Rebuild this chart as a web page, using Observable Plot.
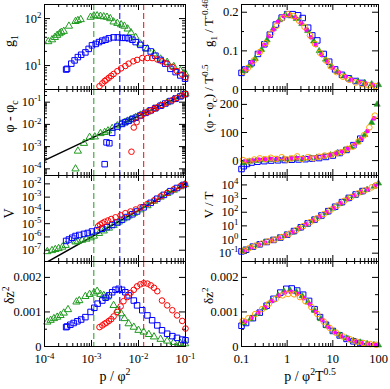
<!DOCTYPE html>
<html><head><meta charset="utf-8">
<script src="https://cdn.jsdelivr.net/npm/d3@7"></script>
<script src="https://cdn.jsdelivr.net/npm/@observablehq/plot@0.6"></script>
<style>
html,body{margin:0;padding:0;background:#fff;}
#chart{position:relative;width:390px;height:389px;overflow:hidden;font-family:"Liberation Serif",serif;}
#chart svg{position:absolute;}
</style></head><body><div id="chart"></div>
<script>
// ---------- colours ----------
const GREEN = "#1f9a1f", BLUE = "#0000ff", RED = "#ff0000", MAGENTA = "#ff00ff", ORANGE = "#ffa500";

// ---------- left column: x = log10(p/phi^2) ----------
// vertical dashed markers (p/phi^2) for green, blue, red series
const vlines = [1.12e-3, 4.0e-3, 1.29e-2];

// panel 1: [log10 x, log10 g1]
const g1Green = [[-3.92,1.51],[-3.84,1.55],[-3.78,1.60],[-3.73,1.645],[-3.68,1.68],[-3.64,1.71],[-3.59,1.73],[-3.48,1.84],[-3.34,1.94],[-3.29,1.96],[-3.23,1.98],[-3.02,2.03],[-2.95,2.06],[-2.88,2.06],[-2.81,2.05],[-2.74,2.04],[-2.67,2.03],[-2.60,2.0],[-2.53,1.93],[-2.45,1.90],[-2.37,1.87],[-2.30,1.84],[-2.23,1.78],[-2.16,1.70],[-2.06,1.60],[-1.96,1.46],[-1.81,1.355],[-1.67,1.25],[-1.53,1.14],[-1.39,1.07],[-1.25,0.98],[-1.11,0.89],[-1.0,0.82]];
const g1Blue = [[-3.54,0.915],[-3.52,0.93],[-3.43,1.04],[-3.36,1.11],[-3.29,1.18],[-3.22,1.23],[-3.13,1.28],[-3.06,1.355],[-2.99,1.43],[-2.91,1.46],[-2.84,1.50],[-2.77,1.53],[-2.70,1.55],[-2.63,1.58],[-2.53,1.60],[-2.44,1.60],[-2.35,1.59],[-2.28,1.59],[-2.21,1.58],[-2.13,1.55],[-2.06,1.50],[-1.96,1.44],[-1.85,1.37],[-1.74,1.30],[-1.64,1.21],[-1.53,1.12],[-1.43,1.04],[-1.32,0.93],[-1.21,0.86],[-1.11,0.79],[-1.01,0.72]];
const g1Red = [[-2.83,0.56],[-2.77,0.62],[-2.72,0.67],[-2.68,0.70],[-2.63,0.74],[-2.58,0.78],[-2.53,0.82],[-2.45,0.88],[-2.37,0.94],[-2.28,0.99],[-2.21,1.04],[-2.11,1.09],[-2.03,1.12],[-1.92,1.16],[-1.81,1.16],[-1.71,1.16],[-1.60,1.13],[-1.50,1.09],[-1.39,1.04],[-1.28,0.97],[-1.18,0.88],[-1.07,0.81],[-1.0,0.75]];

// panel 2: [log10 x, log10 (phi - phi_c)]
const phiGreen = [[-3.34,-4.0],[-3.29,-3.2],[-3.16,-2.85],[-3.04,-2.58],[-2.93,-2.56],[-2.81,-2.41],[-2.72,-2.36],[-2.65,-2.29],[-2.56,-2.18],[-2.45,-2.06],[-2.37,-1.98],[-2.30,-1.92],[-2.23,-1.85],[-2.16,-1.78],[-2.06,-1.68],[-1.96,-1.58],[-1.81,-1.44],[-1.67,-1.30],[-1.53,-1.16],[-1.39,-1.02],[-1.25,-0.88],[-1.11,-0.74],[-1.0,-0.63]];
const phiBlue = [[-2.72,-3.79],[-2.68,-2.81],[-2.62,-2.85],[-2.56,-2.38],[-2.45,-2.10],[-2.35,-1.98],[-2.28,-1.90],[-2.21,-1.84],[-2.13,-1.76],[-2.06,-1.70],[-1.96,-1.60],[-1.85,-1.48],[-1.74,-1.37],[-1.64,-1.27],[-1.53,-1.16],[-1.43,-1.06],[-1.32,-0.95],[-1.21,-0.84],[-1.11,-0.74],[-1.01,-0.64]];
const phiRed = [[-2.15,-3.23],[-2.10,-2.14],[-2.04,-1.90],[-1.96,-1.62],[-1.89,-1.52],[-1.81,-1.45],[-1.74,-1.38],[-1.67,-1.30],[-1.60,-1.23],[-1.50,-1.13],[-1.39,-1.02],[-1.28,-0.91],[-1.18,-0.81],[-1.07,-0.70],[-1.0,-0.63]];
const phiFit = [[-4,-3.62],[-1,-0.62]];

// panel 3: [log10 x, log10 V]
const vGreen = [[-3.94,-7.10],[-3.84,-7.02],[-3.77,-6.94],[-3.70,-6.87],[-3.62,-6.76],[-3.55,-6.63],[-3.34,-6.37],[-3.29,-6.32],[-3.20,-6.24],[-3.11,-6.16],[-3.02,-6.06],[-2.95,-5.93],[-2.84,-5.73],[-2.74,-5.54],[-2.63,-5.33],[-2.53,-5.12],[-2.42,-4.87],[-2.32,-4.63],[-2.21,-4.42],[-2.10,-4.21],[-1.96,-3.95],[-1.81,-3.64],[-1.67,-3.30],[-1.53,-2.99],[-1.39,-2.72],[-1.25,-2.47],[-1.11,-2.21],[-1.01,-2.05]];
const vBlue = [[-3.54,-6.30],[-3.48,-6.19],[-3.41,-6.06],[-3.34,-5.93],[-3.26,-5.85],[-3.16,-5.77],[-3.08,-5.70],[-2.99,-5.59],[-2.88,-5.49],[-2.77,-5.38],[-2.67,-5.26],[-2.56,-5.10],[-2.45,-4.91],[-2.35,-4.71],[-2.24,-4.50],[-2.13,-4.29],[-2.03,-4.08],[-1.89,-3.77],[-1.74,-3.43],[-1.60,-3.12],[-1.46,-2.83],[-1.32,-2.55],[-1.18,-2.31],[-1.04,-2.08]];
const vRed = [[-2.86,-5.20],[-2.82,-5.07],[-2.77,-4.97],[-2.72,-4.86],[-2.65,-4.76],[-2.58,-4.65],[-2.49,-4.52],[-2.38,-4.37],[-2.28,-4.21],[-2.17,-4.08],[-2.06,-3.93],[-1.96,-3.77],[-1.81,-3.51],[-1.67,-3.25],[-1.53,-2.94],[-1.39,-2.68],[-1.25,-2.41],[-1.11,-2.18],[-1.01,-2.03]];
const vFit = [[-4,-8],[-1,-2]];

// panel 4: [log10 x, delta z^2]
const dzGreen = [[-3.94,0.00071],[-3.87,0.00076],[-3.80,0.00081],[-3.73,0.00085],[-3.66,0.00090],[-3.59,0.00097],[-3.50,0.00107],[-3.32,0.00129],[-3.26,0.00133],[-3.13,0.00145],[-3.04,0.00151],[-2.95,0.00155],[-2.88,0.00160],[-2.81,0.00151],[-2.74,0.00148],[-2.67,0.00143],[-2.53,0.00119],[-2.45,0.00105],[-2.37,0.00095],[-2.30,0.00081],[-2.21,0.00066],[-2.10,0.00056],[-2.0,0.00047],[-1.89,0.00042],[-1.78,0.00035],[-1.67,0.00028],[-1.53,0.00021],[-1.39,0.00016],[-1.25,0.00012],[-1.11,0.00009],[-1.01,0.00008]];
const dzBlue = [[-3.54,0.00056],[-3.52,0.00058],[-3.45,0.00063],[-3.38,0.00068],[-3.30,0.00073],[-3.22,0.00078],[-3.13,0.00085],[-3.02,0.00100],[-2.94,0.00112],[-2.87,0.00124],[-2.77,0.00133],[-2.70,0.00141],[-2.63,0.00148],[-2.56,0.00157],[-2.49,0.00164],[-2.42,0.00167],[-2.35,0.00164],[-2.28,0.00157],[-2.21,0.00148],[-2.10,0.00133],[-2.03,0.00119],[-1.92,0.00105],[-1.81,0.00090],[-1.71,0.00076],[-1.60,0.00061],[-1.50,0.00047],[-1.39,0.00037],[-1.28,0.00030],[-1.18,0.00025],[-1.07,0.00020],[-1.0,0.00018]];
const dzRed = [[-2.83,0.00056],[-2.77,0.00061],[-2.72,0.00066],[-2.68,0.00069],[-2.63,0.00074],[-2.58,0.00079],[-2.53,0.00087],[-2.45,0.00100],[-2.38,0.00116],[-2.32,0.00131],[-2.24,0.00143],[-2.17,0.00155],[-2.10,0.00164],[-2.03,0.00174],[-1.96,0.00180],[-1.89,0.00183],[-1.81,0.00182],[-1.74,0.00177],[-1.67,0.00170],[-1.60,0.00160],[-1.50,0.00133],[-1.39,0.00119],[-1.28,0.00105],[-1.18,0.00090],[-1.07,0.00074],[-1.0,0.00052]];

// ---------- right column: x = log10(p / phi^2 T^0.5) ----------
// R1: [log10 x, g1 / T^-0.46]
const r1Blue = [[-1.0,0.043],[-0.92,0.052],[-0.78,0.068],[-0.64,0.092],[-0.5,0.117],[-0.38,0.142],[-0.25,0.168],[-0.12,0.186],[0.0,0.195],[0.12,0.195],[0.24,0.192],[0.34,0.185],[0.46,0.16],[0.55,0.14],[0.66,0.127],[0.8,0.092],[0.92,0.072],[1.05,0.052],[1.2,0.038],[1.35,0.029],[1.5,0.022],[1.65,0.017]];
const r1Green = [[-0.95,0.048],[-0.82,0.062],[-0.7,0.08],[-0.56,0.103],[-0.44,0.128],[-0.3,0.158],[-0.17,0.18],[-0.04,0.193],[0.08,0.19],[0.2,0.183],[0.32,0.17],[0.45,0.152],[0.58,0.125],[0.7,0.1],[0.84,0.078],[0.97,0.06],[1.1,0.046],[1.25,0.035],[1.4,0.027],[1.55,0.021],[1.7,0.017],[1.85,0.014],[2.0,0.012]];
const r1Magenta = [[-0.9,0.052],[-0.77,0.07],[-0.62,0.095],[-0.5,0.115],[-0.4,0.138],[-0.3,0.155],[-0.2,0.175],[-0.08,0.19],[0.05,0.192],[0.17,0.186],[0.3,0.172],[0.42,0.155],[0.52,0.135],[0.63,0.115],[0.75,0.09],[0.88,0.072],[1.0,0.056],[1.13,0.044],[1.28,0.033],[1.42,0.025],[1.58,0.019],[1.72,0.015],[1.88,0.012]];
const r1Orange = [[-0.96,0.046],[-0.86,0.056],[-0.73,0.075],[-0.6,0.097],[-0.47,0.12],[-0.35,0.145],[-0.23,0.165],[-0.1,0.185],[0.02,0.195],[0.14,0.19],[0.26,0.178],[0.38,0.162],[0.5,0.14],[0.61,0.118],[0.72,0.095],[0.85,0.075],[0.95,0.06],[1.08,0.045],[1.22,0.033],[1.36,0.025],[1.5,0.018],[1.64,0.014],[1.78,0.011],[1.93,0.009]];

// R2: [log10 x, (phi - phi_c) / T^0.5]
const r2Blue = [[-1.0,-30],[-0.95,-20],[-0.88,-12],[-0.78,-7],[-0.65,-4],[-0.5,-2],[-0.35,0],[-0.2,1],[-0.05,2],[0.1,3],[0.25,4],[0.4,5],[0.55,7],[0.7,9],[0.85,13],[1.0,18],[1.15,27],[1.3,38],[1.45,55],[1.6,78]];
const r2Green = [[-0.95,-8],[-0.82,-3],[-0.68,0],[-0.52,2],[-0.38,3],[-0.22,4],[-0.08,5],[0.06,5],[0.2,6],[0.35,7],[0.5,9],[0.65,11],[0.8,14],[0.95,20],[1.1,27],[1.25,36],[1.4,48],[1.55,66],[1.7,92],[1.85,135],[1.97,200]];
const r2Magenta = [[-0.9,-2],[-0.76,1],[-0.62,3],[-0.48,4],[-0.34,5],[-0.2,6],[-0.06,6],[0.08,7],[0.22,8],[0.36,9],[0.5,10],[0.64,12],[0.78,15],[0.92,19],[1.06,25],[1.2,33],[1.34,43],[1.48,58],[1.62,78],[1.76,105],[1.9,150]];
const r2Orange = [[-0.97,2],[-0.85,-2],[-0.72,4],[-0.6,8],[-0.48,5],[-0.36,10],[-0.25,6],[-0.12,12],[0.0,4],[0.1,8],[0.22,15],[0.32,6],[0.45,12],[0.58,8],[0.7,14],[0.82,18],[0.95,20],[1.08,26],[1.2,30],[1.32,42],[1.44,50],[1.56,68],[1.68,90],[1.8,118],[1.92,160]];

// R3: [log10 x, log10 V/T]
const r3Blue = [[-1.0,-0.87],[-0.9,-0.75],[-0.75,-0.52],[-0.6,-0.35],[-0.45,-0.18],[-0.3,-0.03],[-0.15,0.14],[0.0,0.36],[0.15,0.62],[0.3,0.9],[0.45,1.18],[0.6,1.46],[0.75,1.76],[0.9,2.08],[1.05,2.4],[1.2,2.74],[1.35,3.05],[1.5,3.3],[1.65,3.55]];
const r3Green = [[-0.95,-0.8],[-0.8,-0.6],[-0.65,-0.4],[-0.5,-0.24],[-0.35,-0.08],[-0.2,0.08],[-0.05,0.28],[0.1,0.52],[0.25,0.8],[0.4,1.08],[0.55,1.36],[0.7,1.65],[0.85,1.96],[1.0,2.28],[1.15,2.62],[1.3,2.95],[1.45,3.2],[1.6,3.45],[1.75,3.65],[1.9,3.88],[2.0,4.12]];
const r3Magenta = [[-0.92,-0.78],[-0.78,-0.57],[-0.62,-0.38],[-0.48,-0.22],[-0.33,-0.06],[-0.18,0.1],[-0.03,0.31],[0.12,0.55],[0.27,0.83],[0.42,1.12],[0.57,1.4],[0.72,1.69],[0.87,2.0],[1.02,2.32],[1.17,2.66],[1.32,2.98],[1.47,3.24],[1.62,3.48],[1.77,3.68],[1.92,3.92]];
const r3Orange = [[-0.97,-0.82],[-0.84,-0.64],[-0.7,-0.45],[-0.56,-0.3],[-0.42,-0.14],[-0.27,0.0],[-0.12,0.18],[0.04,0.42],[0.2,0.7],[0.35,0.98],[0.5,1.27],[0.65,1.56],[0.8,1.86],[0.95,2.17],[1.1,2.5],[1.25,2.84],[1.4,3.12],[1.55,3.38],[1.7,3.6],[1.85,3.82],[1.95,3.98]];

// R4: [log10 x, delta z^2]
const r4Blue = [[-1.0,0.0006],[-0.9,0.00068],[-0.75,0.00082],[-0.6,0.00098],[-0.45,0.00118],[-0.3,0.00138],[-0.15,0.00156],[-0.02,0.00167],[0.1,0.00168],[0.22,0.00162],[0.35,0.0015],[0.48,0.00132],[0.6,0.00108],[0.72,0.00085],[0.85,0.00063],[1.0,0.00045],[1.15,0.00032],[1.3,0.00022],[1.45,0.00015],[1.6,0.0001]];
const r4Green = [[-0.95,0.00068],[-0.8,0.0008],[-0.65,0.00095],[-0.5,0.00112],[-0.35,0.00132],[-0.2,0.00148],[-0.07,0.0016],[0.06,0.00163],[0.2,0.00158],[0.33,0.00146],[0.46,0.00128],[0.6,0.00104],[0.74,0.0008],[0.88,0.00059],[1.02,0.00043],[1.16,0.00032],[1.3,0.00024],[1.45,0.00017],[1.6,0.00012],[1.75,0.00008],[1.9,0.00005],[2.0,0.00004]];
const r4Magenta = [[-0.92,0.00072],[-0.78,0.00083],[-0.63,0.00098],[-0.48,0.00114],[-0.33,0.00132],[-0.18,0.00147],[-0.05,0.00156],[0.08,0.00158],[0.22,0.00152],[0.36,0.0014],[0.5,0.00122],[0.63,0.001],[0.77,0.00077],[0.9,0.00057],[1.04,0.00041],[1.18,0.0003],[1.32,0.00022],[1.48,0.00015],[1.62,0.0001],[1.78,0.00007],[1.92,0.00005]];
const r4Orange = [[-0.97,0.00074],[-0.85,0.00082],[-0.7,0.00094],[-0.55,0.00108],[-0.4,0.00124],[-0.25,0.00138],[-0.1,0.00148],[0.02,0.00152],[0.15,0.00151],[0.28,0.00143],[0.4,0.00131],[0.53,0.00114],[0.66,0.00094],[0.8,0.00072],[0.93,0.00054],[1.07,0.0004],[1.22,0.00029],[1.37,0.00021],[1.52,0.00014],[1.67,0.0001],[1.82,0.00007],[1.95,0.00005]];

// ---------- ticks ----------
const leftXTicks = [1e-4, 1e-3, 1e-2, 1e-1];
const rightXTicks = [0.1, 1, 10, 100];
const g1Ticks = [10, 100];
const phiTicks = [1e-4, 1e-3, 1e-2, 1e-1];
const vTicks = [1e-7, 1e-6, 1e-5, 1e-4, 1e-3, 1e-2];
const dzTicks = [0, 0.001, 0.002];
const r1Ticks = [0, 0.1, 0.2];
const r2Ticks = [0, 100, 200];
const r3Ticks = [1e-1, 1, 10, 100, 1e3, 1e4];

// ---------- helpers ----------
const LL = a => a.map(([x, y]) => ({x: 10 ** x, y: 10 ** y}));
const LN = a => a.map(([x, y]) => ({x: 10 ** x, y}));
const logFmt = v => `10^{${Math.round(Math.log10(v))}}`;
function minorLog(domain) {
  const out = [];
  const e0 = Math.floor(Math.log10(domain[0])), e1 = Math.ceil(Math.log10(domain[1]));
  for (let e = e0; e <= e1; e++) for (let k = 2; k <= 9; k++) {
    const v = k * 10 ** e;
    if (v > domain[0] && v < domain[1]) out.push(v);
  }
  return out;
}

const COLS = [{left: 0, width: 195, ml: 44, mr: 10, ylx: 9, lfs: 14}, {left: 195, width: 195, ml: 46, mr: 12, ylx: 13, lfs: 13}];
const ROWS = [{top: 4, h: 85}, {top: 89, h: 86}, {top: 175, h: 86}, {top: 261, h: 85}];

function rich(svg) {
  svg.querySelectorAll("text").forEach(t => {
    const s = t.textContent;
    if (!/[\^_]\{/.test(s)) return;
    const fs = parseFloat(getComputedStyle(t).fontSize) || 13;
    const parts = []; const re = /([\^_])\{([^}]*)\}/g; let last = 0, m;
    while ((m = re.exec(s))) {
      if (m.index > last) parts.push([0, s.slice(last, m.index)]);
      parts.push([m[1] === "^" ? 1 : -1, m[2]]);
      last = re.lastIndex;
    }
    if (last < s.length) parts.push([0, s.slice(last)]);
    while (t.firstChild) t.removeChild(t.firstChild);
    let cur = 0;
    for (const [k, str] of parts) {
      const ts = document.createElementNS("http://www.w3.org/2000/svg", "tspan");
      const target = k === 1 ? -0.38 * fs : k === -1 ? 0.3 * fs : 0;
      if (target !== cur) ts.setAttribute("dy", (target - cur).toFixed(2));
      if (k) ts.setAttribute("font-size", (0.7 * fs).toFixed(1));
      ts.textContent = str;
      t.appendChild(ts);
      cur = target;
    }
  });
}

const chart = document.getElementById("chart");

function panel(c, r, cfg) {
  const C = COLS[c], R = ROWS[r];
  const mt = 14, mb = r === 3 ? 46 : 14;
  const fw = C.width - C.ml - C.mr, fh = R.h;
  const marks = [];
  const xMajor = cfg.xTicks.filter(v => v >= cfg.xDomain[0] && v <= cfg.xDomain[1]);
  const xMinor = minorLog(cfg.xDomain);
  const yMajor = cfg.yTicks.filter(v => v >= cfg.yDomain[0] && v <= cfg.yDomain[1]);
  const yMinor = cfg.yMinor || [];
  const tk = {stroke: "black", strokeWidth: 1};
  marks.push(Plot.tickX(xMajor, {...tk, x: d => d, insetTop: fh - 6}));
  marks.push(Plot.tickX(xMajor, {...tk, x: d => d, insetBottom: fh - 6}));
  marks.push(Plot.tickX(xMinor, {...tk, x: d => d, insetTop: fh - 3}));
  marks.push(Plot.tickX(xMinor, {...tk, x: d => d, insetBottom: fh - 3}));
  marks.push(Plot.tickY(yMajor, {...tk, y: d => d, insetRight: fw - 6}));
  marks.push(Plot.tickY(yMajor, {...tk, y: d => d, insetLeft: fw - 6}));
  if (yMinor.length) {
    marks.push(Plot.tickY(yMinor, {...tk, y: d => d, insetRight: fw - 3}));
    marks.push(Plot.tickY(yMinor, {...tk, y: d => d, insetLeft: fw - 3}));
  }
  marks.push(...cfg.marks);
  marks.push(Plot.frame({stroke: "black", strokeWidth: 1}));
  marks.push(Plot.axisY({ticks: cfg.yTicks, tickFormat: cfg.yFormat, tickSize: 0, tickPadding: 3, label: null}));
  if (r === 3) {
    marks.push(Plot.axisX({ticks: cfg.xTicks, tickFormat: cfg.xFormat, tickSize: 0, tickPadding: 8, label: null}));
    marks.push(Plot.text([cfg.xLabel], {text: d => d, frameAnchor: "bottom", dy: 34, fontSize: 14}));
  }
  marks.push(Plot.text([cfg.yLabel], {text: d => d, frameAnchor: "left", dx: C.ylx - C.ml, rotate: -90, fontSize: C.lfs}));
  const svg = Plot.plot({
    width: C.width, height: mt + fh + mb,
    marginLeft: C.ml, marginRight: C.mr, marginTop: mt, marginBottom: mb,
    x: {type: "log", domain: cfg.xDomain, axis: r === 3 ? undefined : null},
    y: {type: cfg.yType, domain: cfg.yDomain},
    style: {fontFamily: "Liberation Serif, serif", fontSize: "12.5px", background: "transparent", overflow: "visible", color: "black"},
    marks
  });
  svg.style.left = C.left + "px";
  svg.style.top = (R.top - mt) + "px";
  chart.appendChild(svg);
  rich(svg);
}

const LXD = [1e-4, 1e-1], RXD = [0.1, 100];
const dashes = [GREEN, BLUE, RED].map((col, i) => Plot.ruleX([vlines[i]], {x: d => d, stroke: col, strokeWidth: 1, strokeDasharray: "6,3"}));
const openTri = (d, col) => Plot.dot(d, {x: "x", y: "y", symbol: "triangle", r: 2.7, stroke: col, fill: "none", strokeWidth: 1});
const openSq = (d, col) => Plot.dot(d, {x: "x", y: "y", symbol: "square", r: 3.1, stroke: col, fill: "none", strokeWidth: 1});
const openCirc = (d, col) => Plot.dot(d, {x: "x", y: "y", symbol: "circle", r: 2.8, stroke: col, fill: "none", strokeWidth: 1});
const fitLine = d => Plot.line(d, {x: "x", y: "y", stroke: "black", strokeWidth: 1.5, clip: true});
const rightDots = (b, g, m, o) => [
  openSq(b, BLUE),
  Plot.dot(g, {x: "x", y: "y", symbol: "triangle", r: 2.3, fill: GREEN, stroke: GREEN, strokeWidth: 0.6}),
  Plot.dot(m, {x: "x", y: "y", symbol: "circle", r: 2.4, fill: MAGENTA, stroke: "none"}),
  openCirc(o, ORANGE)
];

// ----- left column -----
panel(0, 0, {xDomain: LXD, xTicks: leftXTicks, yType: "log", yDomain: [10 ** 0.49, 10 ** 2.3], yTicks: g1Ticks,
  yMinor: minorLog([10 ** 0.49, 10 ** 2.3]), yFormat: logFmt, yLabel: "g_{1}",
  marks: [...dashes, openTri(LL(g1Green), GREEN), openSq(LL(g1Blue), BLUE), openCirc(LL(g1Red), RED)]});
panel(0, 1, {xDomain: LXD, xTicks: leftXTicks, yType: "log", yDomain: [10 ** -4.3, 10 ** -0.43], yTicks: phiTicks,
  yMinor: minorLog([10 ** -4.3, 10 ** -0.43]), yFormat: logFmt, yLabel: "φ - φ_{c}",
  marks: [...dashes, fitLine(LL(phiFit)), openTri(LL(phiGreen), GREEN), openSq(LL(phiBlue), BLUE), openCirc(LL(phiRed), RED)]});
panel(0, 2, {xDomain: LXD, xTicks: leftXTicks, yType: "log", yDomain: [10 ** -7.85, 10 ** -1.37], yTicks: vTicks,
  yFormat: logFmt, yLabel: "V",
  marks: [...dashes, fitLine(LL(vFit)), openTri(LL(vGreen), GREEN), openSq(LL(vBlue), BLUE), openCirc(LL(vRed), RED)]});
panel(0, 3, {xDomain: LXD, xTicks: leftXTicks, xFormat: logFmt, yType: "linear", yDomain: [0, 0.00246], yTicks: dzTicks,
  yMinor: [0.0005, 0.0015], yFormat: v => v === 0 ? "0" : v.toFixed(3), yLabel: "δz^{2}", xLabel: "p / φ^{2}",
  marks: [...dashes, openTri(LN(dzGreen), GREEN), openSq(LN(dzBlue), BLUE), openCirc(LN(dzRed), RED)]});

// ----- right column -----
panel(1, 0, {xDomain: RXD, xTicks: rightXTicks, yType: "linear", yDomain: [0, 0.22], yTicks: r1Ticks,
  yMinor: [0.05, 0.15], yFormat: v => v === 0 ? "0" : String(v), yLabel: "g_{1} / T^{-0.46}",
  marks: rightDots(LN(r1Blue), LN(r1Green), LN(r1Magenta), LN(r1Orange))});
panel(1, 1, {xDomain: RXD, xTicks: rightXTicks, yType: "linear", yDomain: [-53, 253], yTicks: r2Ticks,
  yMinor: [50, 150], yFormat: v => String(v), yLabel: "(φ - φ_{c}) / T^{0.5}",
  marks: rightDots(LN(r2Blue), LN(r2Green), LN(r2Magenta), LN(r2Orange))});
panel(1, 2, {xDomain: RXD, xTicks: rightXTicks, yType: "log", yDomain: [10 ** -1.61, 10 ** 4.69], yTicks: r3Ticks,
  yFormat: logFmt, yLabel: "V / T",
  marks: rightDots(LL(r3Blue), LL(r3Green), LL(r3Magenta), LL(r3Orange))});
panel(1, 3, {xDomain: RXD, xTicks: rightXTicks, xFormat: v => String(v), yType: "linear", yDomain: [0, 0.00246], yTicks: dzTicks,
  yMinor: [0.0005, 0.0015], yFormat: v => v === 0 ? "0" : v.toFixed(3), yLabel: "δz^{2}", xLabel: "p / φ^{2}T^{0.5}",
  marks: rightDots(LN(r4Blue), LN(r4Green), LN(r4Magenta), LN(r4Orange))});
</script></body></html>
